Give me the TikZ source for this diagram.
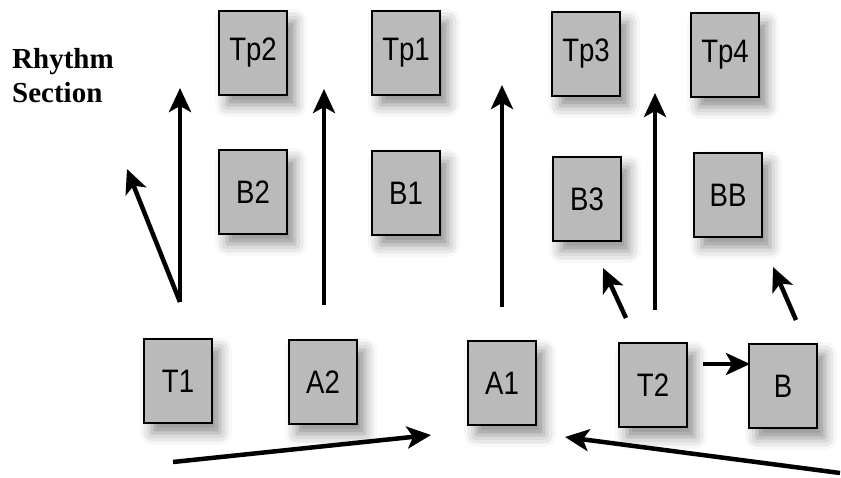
\documentclass[tikz,border=0pt]{standalone}
\usepackage{fontspec}
\setmainfont{Liberation Serif}
\newfontfamily\boxfont{Liberation Sans}
\usetikzlibrary{arrows.meta,shadows.blur}
\newcommand\plab[1]{\scalebox{0.95}[1.12]{#1}}
\begin{document}
\begin{tikzpicture}[x=1pt,y=-1pt,
  player/.style={draw=black, line width=1.8pt, fill=black!27,
    minimum width=68pt, minimum height=84pt, inner sep=0pt,
    font=\boxfont\fontsize{29}{32}\selectfont,
    blur shadow={shadow xshift=8pt, shadow yshift=-10pt, shadow blur radius=12pt, shadow opacity=45}},
  arr/.style={line width=4.5pt, -{Stealth[length=24pt,width=22pt,inset=6pt]}},
  lbl/.style={font=\bfseries\fontsize{29}{32}\selectfont, anchor=base west, inner sep=0pt}
]
\useasboundingbox (0,0) rectangle (841,478);

% label
\node[lbl] (rh) at (12,69) {Rhythm};
\node[lbl] (se) at (12,103) {Section};

% top row
\node[player] (Tp2) at (253,53) {\plab{Tp2}};
\node[player] (Tp1) at (406,53) {\plab{Tp1}};
\node[player] (Tp3) at (586,54) {\plab{Tp3}};
\node[player] (Tp4) at (725,55) {\plab{Tp4}};
% middle row
\node[player] (B2) at (253,192) {\plab{B2}};
\node[player] (B1) at (406,193) {\plab{B1}};
\node[player] (B3) at (587,199) {\plab{B3}};
\node[player] (BB) at (728,195) {\plab{BB}};
% bottom row
\node[player] (T1) at (178,381) {\plab{T1}};
\node[player] (A2) at (323,382) {\plab{A2}};
\node[player] (A1) at (502,383) {\plab{A1}};
\node[player] (T2) at (653,385) {\plab{T2}};
\node[player] (B) at (783,386) {\plab{B}};

% arrow end points
\coordinate (t1base) at (180,302);
\coordinate (t1up) at (180,88);
\coordinate (t1diag) at (127,169);
\coordinate (a2base) at (324,305);
\coordinate (a2up) at (324,89);
\coordinate (a1base) at (502,307);
\coordinate (a1up) at (502,85);
\coordinate (t2base) at (655,310);
\coordinate (t2up) at (655,93);
\coordinate (b3tail) at (626,318);
\coordinate (b3tip) at (603,268);
\coordinate (bbtail) at (796,320);
\coordinate (bbtip) at (773,267);
\coordinate (t2btail) at (703,364);
\coordinate (t2btip) at (750,364);
\coordinate (ltail) at (173,462);
\coordinate (ltip) at (431,435);
\coordinate (rtail) at (840,473);
\coordinate (rtip) at (565,437);

\draw[arr] (t1base) -- (t1up);
\draw[arr] (t1base) -- (t1diag);
\draw[arr] (a2base) -- (a2up);
\draw[arr] (a1base) -- (a1up);
\draw[arr] (t2base) -- (t2up);
\draw[arr] (b3tail) -- (b3tip);
\draw[arr] (bbtail) -- (bbtip);
\draw[arr] (t2btail) -- (t2btip);
\draw[arr] (ltail) -- (ltip);
\draw[arr] (rtail) -- (rtip);
\end{tikzpicture}
\end{document}
